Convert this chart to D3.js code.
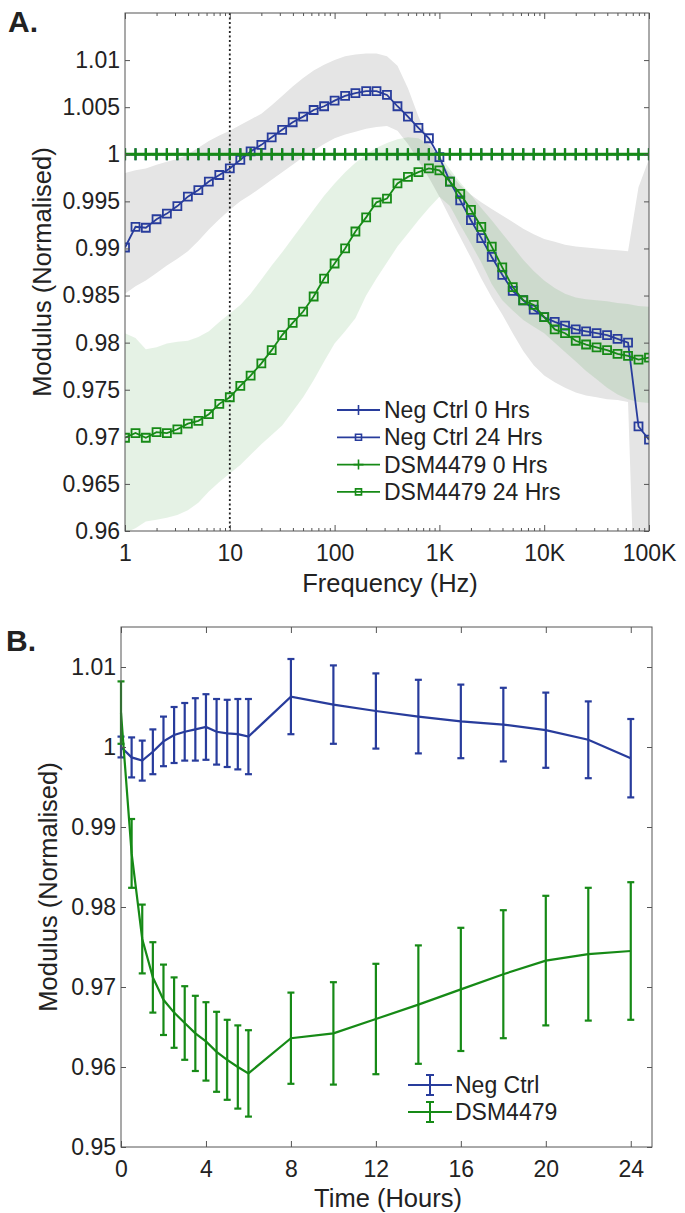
<!DOCTYPE html>
<html>
<head>
<meta charset="utf-8">
<script src="https://cdn.jsdelivr.net/npm/d3@7"></script>
<style>
  body { margin: 0; background: #fff; }
  text { font-family: "Liberation Sans", Arial, sans-serif; fill: #222; }
</style>
</head>
<body>
<div id="chart"></div>
<script>
// ---- panel A data: modulus vs frequency ----
const freqHz = [1, 1.26, 1.58, 2, 2.51, 3.16, 3.98, 5.01, 6.31, 7.94,
  10, 12.6, 15.8, 20, 25.1, 31.6, 39.8, 50.1, 63.1, 79.4,
  100, 126, 158, 200, 251, 316, 398, 501, 631, 794,
  1000, 1260, 1580, 2000, 2510, 3160, 3980, 5010, 6310, 7940,
  10000, 12600, 15800, 20000, 25100, 31600, 39800, 50100, 63100, 79400, 100000];

const negCtrl0h = [1, 1, 1, 1, 1, 1, 1, 1, 1, 1, 1, 1, 1, 1, 1, 1, 1, 1, 1, 1, 1, 1, 1, 1, 1, 1,
  1, 1, 1, 1, 1, 1, 1, 1, 1, 1, 1, 1, 1, 1, 1, 1, 1, 1, 1, 1, 1, 1, 1, 1, 1];
const dsm0h = [1, 1, 1, 1, 1, 1, 1, 1, 1, 1, 1, 1, 1, 1, 1, 1, 1, 1, 1, 1, 1, 1, 1, 1, 1, 1,
  1, 1, 1, 1, 1, 1, 1, 1, 1, 1, 1, 1, 1, 1, 1, 1, 1, 1, 1, 1, 1, 1, 1, 1, 1];

const negCtrl24h = [0.9901, 0.9923, 0.9922, 0.9931, 0.9937, 0.9945, 0.9955, 0.9962, 0.9971, 0.9978,
  0.9985, 0.9994, 1.0003, 1.0010, 1.0018, 1.0026, 1.0034, 1.0040, 1.0047, 1.0051,
  1.0057, 1.0062, 1.0065, 1.0067, 1.0067, 1.0063, 1.0051, 1.0040, 1.0028, 1.0017,
  0.9997, 0.9971, 0.9951, 0.9930, 0.9911, 0.9891, 0.9872, 0.9855, 0.9845, 0.9835,
  0.9827, 0.9822, 0.9818, 0.9814, 0.9812, 0.9810, 0.9808, 0.9804, 0.9800, 0.9711, 0.9697];

const dsm24h = [0.9699, 0.9704, 0.9699, 0.9705, 0.9704, 0.9708, 0.9714, 0.9717, 0.9724, 0.9735,
  0.9742, 0.9754, 0.9765, 0.9778, 0.9792, 0.9808, 0.9821, 0.9833, 0.9849, 0.9868,
  0.9884, 0.9900, 0.9918, 0.9933, 0.9949, 0.9953, 0.9969, 0.9976, 0.9981, 0.9985,
  0.9983, 0.9971, 0.9958, 0.9941, 0.9923, 0.9902, 0.9880, 0.9859, 0.9845, 0.9840,
  0.9827, 0.9814, 0.9810, 0.9802, 0.9798, 0.9795, 0.9792, 0.9788, 0.9786, 0.9782, 0.9784];

// shaded spread bands (upper / lower)
const negBandHi = [0.9980, 0.9983, 0.9985, 0.9989, 0.9992, 0.9995, 1.0000, 1.0007, 1.0014, 1.0020,
  1.0025, 1.0031, 1.0037, 1.0043, 1.0052, 1.0062, 1.0072, 1.0081, 1.0089, 1.0095,
  1.0100, 1.0104, 1.0106, 1.0107, 1.0107, 1.0104, 1.0094, 1.0070, 1.0040, 1.0015,
  0.9993, 0.9980, 0.9967, 0.9957, 0.9949, 0.9942, 0.9935, 0.9928, 0.9921, 0.9915,
  0.9910, 0.9907, 0.9904, 0.9902, 0.9901, 0.9900, 0.9899, 0.9898, 0.9897, 0.9965, 0.9995];
const negBandLo = [0.9852, 0.9860, 0.9866, 0.9874, 0.9882, 0.9889, 0.9897, 0.9908, 0.9920, 0.9931,
  0.9941, 0.9950, 0.9957, 0.9965, 0.9973, 0.9981, 0.9989, 0.9997, 1.0004, 1.0011,
  1.0017, 1.0021, 1.0024, 1.0027, 1.0029, 1.0030, 1.0025, 1.0011, 0.9993, 0.9975,
  0.9955, 0.9933, 0.9912, 0.9890, 0.9868, 0.9848, 0.9830, 0.9810, 0.9791, 0.9776,
  0.9765, 0.9758, 0.9752, 0.9747, 0.9744, 0.9742, 0.9740, 0.9739, 0.9737, 0.9400, 0.9400];
const dsmBandHi = [0.9810, 0.9805, 0.9793, 0.9795, 0.9799, 0.9801, 0.9802, 0.9806, 0.9812, 0.9822,
  0.9831, 0.9840, 0.9852, 0.9867, 0.9882, 0.9896, 0.9911, 0.9926, 0.9941, 0.9956,
  0.9969, 0.9981, 0.9991, 1.0000, 1.0007, 1.0012, 1.0016, 1.0018, 1.0017, 1.0010,
  0.9999, 0.9984, 0.9970, 0.9957, 0.9943, 0.9930, 0.9916, 0.9902, 0.9888, 0.9876,
  0.9866, 0.9858, 0.9852, 0.9848, 0.9846, 0.9845, 0.9844, 0.9842, 0.9841, 0.9839, 0.9838];
const dsmBandLo = [0.9598, 0.9603, 0.9610, 0.9612, 0.9614, 0.9617, 0.9622, 0.9630, 0.9642, 0.9652,
  0.9661, 0.9670, 0.9681, 0.9692, 0.9702, 0.9712, 0.9727, 0.9742, 0.9760, 0.9780,
  0.9799, 0.9812, 0.9826, 0.9850, 0.9868, 0.9885, 0.9902, 0.9916, 0.9930, 0.9943,
  0.9955, 0.9945, 0.9925, 0.9905, 0.9885, 0.9862, 0.9845, 0.9834, 0.9824, 0.9817,
  0.9810, 0.9800, 0.9790, 0.9780, 0.9770, 0.9761, 0.9752, 0.9745, 0.9740, 0.9737, 0.9736];

const yTicksA = [0.96, 0.965, 0.97, 0.975, 0.98, 0.985, 0.99, 0.995, 1, 1.005, 1.01];
const xTicksA = [1, 10, 100, 1000, 10000, 100000];
const legendA = ['Neg Ctrl 0 Hrs', 'Neg Ctrl 24 Hrs', 'DSM4479 0 Hrs', 'DSM4479 24 Hrs'];

// ---- panel B data: modulus vs time ----
const hours = [0, 0.5, 1, 1.5, 2, 2.5, 3, 3.5, 4, 4.5, 5, 5.5, 6, 8, 10, 12, 14, 16, 18, 20, 22, 24];
const negMean = [1.0000, 0.9987, 0.9983, 0.9994, 1.0007, 1.0015, 1.0019, 1.0022, 1.0025, 1.0019, 1.0017,
  1.0016, 1.0013, 1.0063, 1.0053, 1.0045, 1.0038, 1.0032, 1.0028, 1.0021, 1.0009, 0.9986];
const negErr = [0.0013, 0.0025, 0.0025, 0.0028, 0.0031, 0.0035, 0.0036, 0.0039, 0.0041, 0.0041, 0.0042,
  0.0044, 0.0047, 0.0047, 0.0049, 0.0047, 0.0046, 0.0046, 0.0046, 0.0047, 0.0048, 0.0049];
const dsmMean = [1.0043, 0.9867, 0.9760, 0.9712, 0.9684, 0.9668, 0.9655, 0.9642, 0.9632, 0.9619, 0.9609,
  0.9600, 0.9592, 0.9636, 0.9642, 0.9660, 0.9678, 0.9697, 0.9716, 0.9733, 0.9741, 0.9745];
const dsmErr = [0.0039, 0.0043, 0.0043, 0.0044, 0.0044, 0.0044, 0.0046, 0.0047, 0.0049, 0.0050, 0.0050,
  0.0052, 0.0054, 0.0057, 0.0064, 0.0069, 0.0074, 0.0077, 0.0080, 0.0081, 0.0083, 0.0086];

const yTicksB = [0.95, 0.96, 0.97, 0.98, 0.99, 1, 1.01];
const xTicksB = [0, 4, 8, 12, 16, 20, 24];
const legendB = ['Neg Ctrl', 'DSM4479'];

const BLUE = '#283c9c', GREEN = '#168a16', AXIS = '#555';

const svg = d3.select('#chart')
  .append('svg')
    .attr('width', 685)
    .attr('height', 1213)
    .style('background-color', '#fff');

const fmtY = v => String(+v.toFixed(3));
const fmtHz = f => f >= 1000 ? (f / 1000) + 'K' : String(f);

function styleAxis(g) {
  g.select('.domain').remove();
  g.selectAll('.tick line').attr('stroke', AXIS);
  g.selectAll('.tick text').style('font-size', '23px').attr('fill', '#222');
}

// ================= panel A =================
const xA = d3.scaleLog().domain([1, 1e5]).range([125, 649]);
const yA = d3.scaleLinear().domain([0.96, 1.015]).range([531, 13]);

svg.append('clipPath').attr('id', 'clipA')
  .append('rect').attr('x', 125).attr('y', 13).attr('width', 524).attr('height', 518);

const plotA = svg.append('g').attr('clip-path', 'url(#clipA)');

const band = (hi, lo) => d3.area()
  .x((d, i) => xA(freqHz[i]))
  .y0((d, i) => yA(lo[i]))
  .y1((d, i) => yA(hi[i]));

plotA.append('path').datum(negBandHi).attr('d', band(negBandHi, negBandLo)).attr('fill', '#e5e5e5');
plotA.append('path').datum(dsmBandHi).attr('d', band(dsmBandHi, dsmBandLo))
  .attr('fill', 'rgb(0,128,0)').attr('fill-opacity', 0.1);

// 10 Hz marker line
plotA.append('line')
  .attr('x1', xA(10)).attr('x2', xA(10)).attr('y1', 13).attr('y2', 531)
  .attr('stroke', '#222').attr('stroke-width', 1.8).attr('stroke-dasharray', '2,2.5');

const lineA = d3.line().x((d, i) => xA(freqHz[i])).y(d => yA(d));

function seriesA(vals, color, marker, width) {
  plotA.append('path').datum(vals).attr('d', lineA)
    .attr('fill', 'none').attr('stroke', color).attr('stroke-width', width);
  const m = plotA.append('g').selectAll('path').data(vals).enter().append('path')
    .attr('transform', (d, i) => `translate(${xA(freqHz[i])},${yA(d)})`)
    .attr('fill', 'none').attr('stroke', color);
  if (marker === 'plus') m.attr('d', 'M-5,0H5M0,-6V6').attr('stroke-width', 2.2);
  else m.attr('d', 'M-4,-4H4V4H-4Z').attr('stroke-width', 1.8);
}

seriesA(negCtrl0h, BLUE, 'plus', 2);
seriesA(negCtrl24h, BLUE, 'square', 1.8);
seriesA(dsm24h, GREEN, 'square', 1.8);
seriesA(dsm0h, GREEN, 'plus', 2.8);

// axes A (ticks inward on all sides, MATLAB box)
const minorA = xA.ticks().filter(t => !xTicksA.includes(t));
svg.append('g').attr('transform', 'translate(0,531)')
  .call(d3.axisBottom(xA).tickValues(xTicksA).tickSize(-6).tickPadding(14).tickFormat(fmtHz))
  .call(styleAxis);
svg.append('g').attr('transform', 'translate(0,531)')
  .call(d3.axisBottom(xA).tickValues(minorA).tickSize(-3).tickFormat(''))
  .call(styleAxis);
svg.append('g').attr('transform', 'translate(0,13)')
  .call(d3.axisTop(xA).tickValues(xTicksA).tickSize(-6).tickFormat(''))
  .call(styleAxis);
svg.append('g').attr('transform', 'translate(0,13)')
  .call(d3.axisTop(xA).tickValues(minorA).tickSize(-3).tickFormat(''))
  .call(styleAxis);
svg.append('g').attr('transform', 'translate(125,0)')
  .call(d3.axisLeft(yA).tickValues(yTicksA).tickSize(-5).tickPadding(5).tickFormat(fmtY))
  .call(styleAxis);
svg.append('g').attr('transform', 'translate(649,0)')
  .call(d3.axisRight(yA).tickValues(yTicksA).tickSize(-5).tickFormat(''))
  .call(styleAxis);
svg.append('rect').attr('x', 125).attr('y', 13).attr('width', 524).attr('height', 518)
  .attr('fill', 'none').attr('stroke', AXIS).attr('stroke-width', 1);

svg.append('text').attr('x', 390).attr('y', 592).attr('text-anchor', 'middle')
  .style('font-size', '25.5px').text('Frequency (Hz)');
svg.append('text').attr('transform', 'translate(51,272) rotate(-90)').attr('text-anchor', 'middle')
  .style('font-size', '25.5px').text('Modulus (Normalised)');
svg.append('text').attr('x', 8).attr('y', 32).style('font-size', '30px').style('font-weight', 'bold').text('A.');

// legend A
const legA = svg.append('g');
const legStyles = [[BLUE, 'plus'], [BLUE, 'square'], [GREEN, 'plus'], [GREEN, 'square']];
legendA.forEach((name, i) => {
  const y = 410 + i * 27.3;
  const [c, mk] = legStyles[i];
  legA.append('line').attr('x1', 337).attr('x2', 380).attr('y1', y).attr('y2', y)
    .attr('stroke', c).attr('stroke-width', 1.8);
  legA.append('path').attr('transform', `translate(358.5,${y})`)
    .attr('d', mk === 'plus' ? 'M-5,0H5M0,-5V5' : 'M-3,-3H3V3H-3Z')
    .attr('fill', 'none').attr('stroke', c).attr('stroke-width', 1.6);
  legA.append('text').attr('x', 384).attr('y', y + 8).style('font-size', '23px').text(name);
});

// ================= panel B =================
const xB = d3.scaleLinear().domain([0, 25]).range([121, 652]);
const yB = d3.scaleLinear().domain([0.95, 1.015]).range([1147, 627]);

const plotB = svg.append('g');
const lineB = d3.line().x((d, i) => xB(hours[i])).y(d => yB(d));

function seriesB(mean, err, color) {
  plotB.append('path').datum(mean).attr('d', lineB)
    .attr('fill', 'none').attr('stroke', color).attr('stroke-width', 2.2);
  const bars = plotB.append('g').selectAll('g').data(mean).enter().append('g')
    .attr('stroke', color).attr('stroke-width', 2.2);
  bars.append('line')
    .attr('x1', (d, i) => xB(hours[i])).attr('x2', (d, i) => xB(hours[i]))
    .attr('y1', (d, i) => yB(d + err[i])).attr('y2', (d, i) => yB(d - err[i]));
  bars.append('line')
    .attr('x1', (d, i) => xB(hours[i]) - 3.5).attr('x2', (d, i) => xB(hours[i]) + 3.5)
    .attr('y1', (d, i) => yB(d + err[i])).attr('y2', (d, i) => yB(d + err[i]));
  bars.append('line')
    .attr('x1', (d, i) => xB(hours[i]) - 3.5).attr('x2', (d, i) => xB(hours[i]) + 3.5)
    .attr('y1', (d, i) => yB(d - err[i])).attr('y2', (d, i) => yB(d - err[i]));
}

seriesB(negMean, negErr, BLUE);
seriesB(dsmMean, dsmErr, GREEN);

svg.append('g').attr('transform', 'translate(0,1147)')
  .call(d3.axisBottom(xB).tickValues(xTicksB).tickSize(-6).tickPadding(14))
  .call(styleAxis);
svg.append('g').attr('transform', 'translate(0,627)')
  .call(d3.axisTop(xB).tickValues(xTicksB).tickSize(-6).tickFormat(''))
  .call(styleAxis);
svg.append('g').attr('transform', 'translate(121,0)')
  .call(d3.axisLeft(yB).tickValues(yTicksB).tickSize(-5).tickPadding(5).tickFormat(fmtY))
  .call(styleAxis);
svg.append('g').attr('transform', 'translate(652,0)')
  .call(d3.axisRight(yB).tickValues(yTicksB).tickSize(-5).tickFormat(''))
  .call(styleAxis);
svg.append('rect').attr('x', 121).attr('y', 627).attr('width', 531).attr('height', 520)
  .attr('fill', 'none').attr('stroke', AXIS).attr('stroke-width', 1);

svg.append('text').attr('x', 388).attr('y', 1207).attr('text-anchor', 'middle')
  .style('font-size', '25.5px').text('Time (Hours)');
svg.append('text').attr('transform', 'translate(57,887) rotate(-90)').attr('text-anchor', 'middle')
  .style('font-size', '25.5px').text('Modulus (Normalised)');
svg.append('text').attr('x', 6).attr('y', 651).style('font-size', '30px').style('font-weight', 'bold').text('B.');

// legend B
const legB = svg.append('g');
[BLUE, GREEN].forEach((c, i) => {
  const y = 1085 + i * 27;
  const g = legB.append('g').attr('stroke', c).attr('stroke-width', 2);
  g.append('line').attr('x1', 408).attr('x2', 452).attr('y1', y).attr('y2', y);
  g.append('line').attr('x1', 430).attr('x2', 430).attr('y1', y - 10).attr('y2', y + 10);
  g.append('line').attr('x1', 426).attr('x2', 434).attr('y1', y - 10).attr('y2', y - 10);
  g.append('line').attr('x1', 426).attr('x2', 434).attr('y1', y + 10).attr('y2', y + 10);
  legB.append('text').attr('x', 455).attr('y', y + 8).style('font-size', '23px').text(legendB[i]);
});
</script>
</body>
</html>
